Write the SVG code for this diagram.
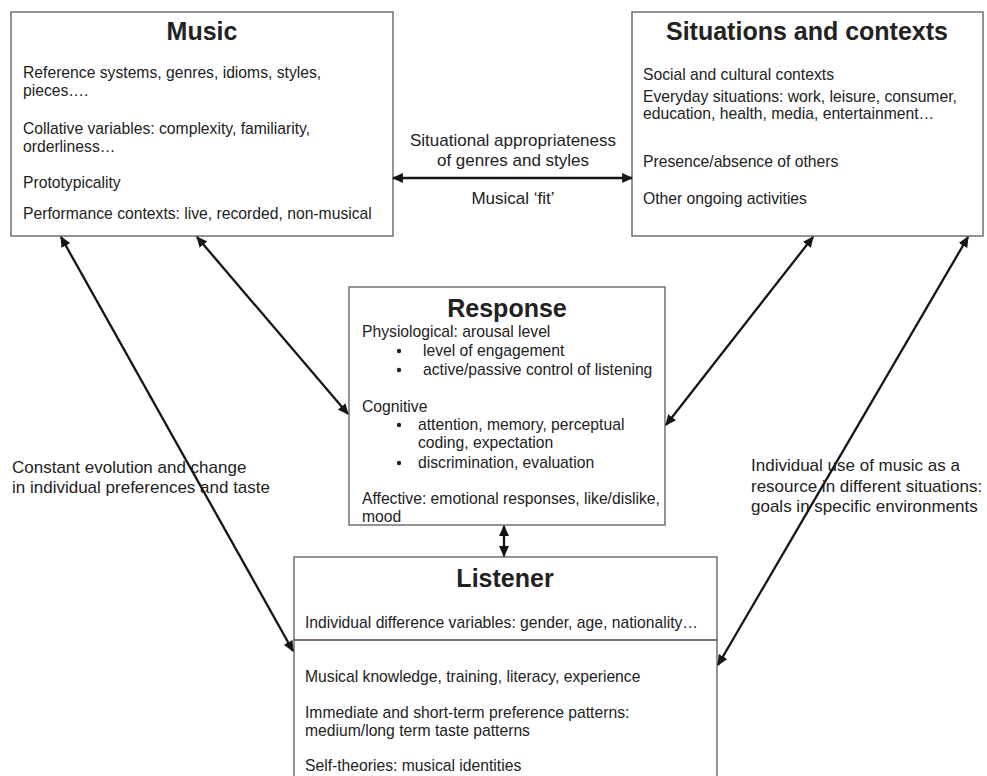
<svg xmlns="http://www.w3.org/2000/svg" width="987" height="776" viewBox="0 0 987 776">
<defs>
<style>
.box{fill:#fff;stroke:#666;stroke-width:1.4}
.t{font-family:"Liberation Sans",Arial,sans-serif;font-size:15.7px;fill:#222}
.s{font-family:"Liberation Sans",Arial,sans-serif;font-size:17px;fill:#222}
.h{font-family:"Liberation Sans",Arial,sans-serif;font-size:25px;font-weight:bold;fill:#222;text-anchor:middle}
.c{text-anchor:middle}
.ln{stroke:#151515;stroke-width:2.3;fill:none;marker-start:url(#a);marker-end:url(#a)}
</style>
<marker id="a" viewBox="0 0 10 10" refX="9" refY="5" markerWidth="11" markerHeight="11" markerUnits="userSpaceOnUse" orient="auto-start-reverse">
<path d="M0,0.5 L10,5 L0,9.5 z" fill="#151515"/>
</marker>
</defs>
<rect width="987" height="776" fill="#fff"/>
<g id="music">
<rect class="box" x="11" y="12" width="382" height="224"/>
<text class="h" x="202" y="40">Music</text>
<text class="t" x="23" y="78">Reference systems, genres, idioms, styles,</text>
<text class="t" x="23" y="96">pieces….</text>
<text class="t" x="23" y="134">Collative variables: complexity, familiarity,</text>
<text class="t" x="23" y="152">orderliness…</text>
<text class="t" x="23" y="188">Prototypicality</text>
<text class="t" x="23" y="219">Performance contexts: live, recorded, non-musical</text>
</g>
<g id="situations">
<rect class="box" x="632" y="12" width="351" height="224"/>
<text class="h" x="807" y="40">Situations and contexts</text>
<text class="t" x="643" y="80">Social and cultural contexts</text>
<text class="t" x="643" y="102">Everyday situations: work, leisure, consumer,</text>
<text class="t" x="643" y="119">education, health, media, entertainment…</text>
<text class="t" x="643" y="167">Presence/absence of others</text>
<text class="t" x="643" y="204">Other ongoing activities</text>
</g>
<g id="response">
<rect class="box" x="349" y="287" width="316" height="238"/>
<text class="h" x="507" y="317">Response</text>
<text class="t" x="362" y="337">Physiological: arousal level</text>
<circle cx="399" cy="351" r="2.2" fill="#222"/>
<text class="t" x="423" y="356">level of engagement</text>
<circle cx="399" cy="370" r="2.2" fill="#222"/>
<text class="t" x="423" y="375">active/passive control of listening</text>
<text class="t" x="362" y="412">Cognitive</text>
<circle cx="399" cy="425" r="2.2" fill="#222"/>
<text class="t" x="418" y="430">attention, memory, perceptual</text>
<text class="t" x="418" y="448">coding, expectation</text>
<circle cx="399" cy="463" r="2.2" fill="#222"/>
<text class="t" x="418" y="468">discrimination, evaluation</text>
<text class="t" x="362" y="504">Affective: emotional responses, like/dislike,</text>
<text class="t" x="362" y="522">mood</text>
</g>
<g id="listener">
<rect class="box" x="294" y="557" width="423" height="230"/>
<line x1="294" y1="640" x2="717" y2="640" stroke="#444" stroke-width="1.5"/>
<text class="h" x="505" y="587">Listener</text>
<text class="t" x="305" y="628">Individual difference variables: gender, age, nationality…</text>
<text class="t" x="305" y="682">Musical knowledge, training, literacy, experience</text>
<text class="t" x="305" y="718">Immediate and short-term preference patterns:</text>
<text class="t" x="305" y="736">medium/long term taste patterns</text>
<text class="t" x="305" y="771">Self-theories: musical identities</text>
</g>
<g id="labels">
<text class="s c" x="513" y="146">Situational appropriateness</text>
<text class="s c" x="513" y="166">of genres and styles</text>
<text class="s c" x="513" y="204">Musical ‘fit’</text>
<text class="s" x="12" y="473">Constant evolution and change</text>
<text class="s" x="12" y="493">in individual preferences and taste</text>
<text class="s" x="751" y="471">Individual use of music as a</text>
<text class="s" x="751" y="492">resource in different situations:</text>
<text class="s" x="751" y="512">goals in specific environments</text>
</g>
<g id="connectors">
<line class="ln" x1="393" y1="178" x2="632" y2="178"/>
<line class="ln" x1="61" y1="237" x2="293" y2="651"/>
<line class="ln" x1="197" y1="237" x2="348" y2="414"/>
<line class="ln" x1="813" y1="237" x2="666" y2="425"/>
<line class="ln" x1="968" y1="237" x2="718" y2="665"/>
<line class="ln" x1="504" y1="526" x2="504" y2="556"/>
</g>
</svg>
